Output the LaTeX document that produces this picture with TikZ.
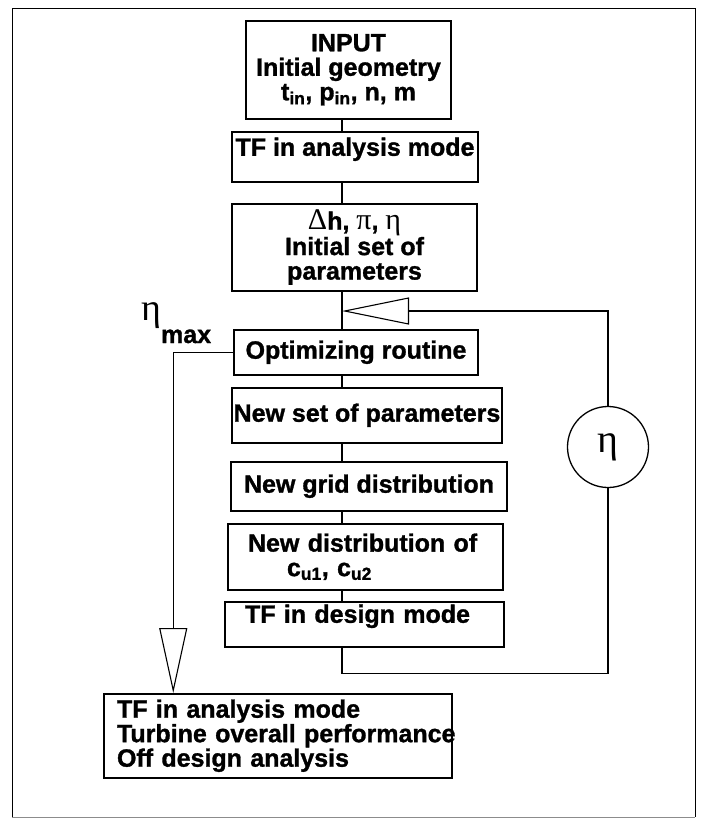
\documentclass[tikz,border=0pt]{standalone}
\usepackage{fontspec}
\setmainfont{Liberation Sans}[BoldFeatures={FakeBold=1.2}]
\newfontfamily\grk{Liberation Serif}
\usetikzlibrary{arrows.meta}
\definecolor{framegray}{gray}{0.55}
\newcommand\grtxt[1]{{\grk\mdseries\fontsize{30}{24.5}\selectfont #1}}
\tikzset{
  flowbox/.style={draw,line width=1.5pt,inner sep=0pt,anchor=north,
    font=\bfseries\fontsize{25}{24.5}\selectfont},
  link/.style={line width=1.1pt},
  bigtip/.style={-{Triangle[open,length=67pt,width=27pt]}},
  etacirc/.style={circle,draw,line width=1.3pt,minimum size=81pt,inner sep=0pt,
    font=\grk\fontsize{40}{40}\selectfont},
}

\begin{document}
\begin{tikzpicture}[x=1pt,y=-1pt]
  \useasboundingbox (0,0) rectangle (702,820);
  % frame
  \draw[line width=1pt] (12,817) -- (12,8) -- (695,8) -- (695,817);
  \draw[framegray,line width=1pt] (12,817) -- (695,817);
  \coordinate (spine) at (342,0);
  % main column
  \node[flowbox,minimum width=205pt,minimum height=98pt,align=center] (inp) at (348.5,20)
    {INPUT\\Initial geometry\\t\textsubscript{in}, p\textsubscript{in}, n, m};
  \node[flowbox,minimum width=246pt,text height=24pt,text depth=26pt] (tfan) at (355,131)
    {TF in analysis mode};
  \node[flowbox,minimum width=245pt,minimum height=87pt,align=center] (init) at (354.5,203)
    {\grtxt{Δ}h, \grtxt{π}, \grtxt{η}\\Initial set of\\parameters};
  \node[flowbox,minimum width=244pt,minimum height=45pt] (opt) at (356,329)
    {Optimizing routine};
  \node[flowbox,minimum width=270pt,minimum height=55pt] (npar) at (367,387)
    {New set of parameters};
  \node[flowbox,minimum width=276pt,minimum height=49pt] (grid) at (369,461)
    {New grid distribution};
  \node[flowbox,text width=235pt,inner xsep=20pt,minimum height=66pt,align=left] (dist) at (365.5,523)
    {New distribution of\\\hspace*{39pt}c\textsubscript{u1}, c\textsubscript{u2}};
  \node[flowbox,text width=239pt,inner xsep=20pt,text height=21pt,text depth=24pt,align=left] (design) at (364.5,601)
    {TF in design mode};
  \node[flowbox,text width=322pt,inner xsep=13pt,minimum height=84pt,align=left] (res) at (278,693)
    {TF in analysis mode\\\mbox{Turbine overall performance}\\Off design analysis};
  % connectors
  \draw[link] (inp.south -| spine) -- (tfan.north -| spine);
  \draw[link] (tfan.south -| spine) -- (init.north -| spine);
  \draw[link] (init.south -| spine) -- (opt.north -| spine);
  \draw[link] (opt.south -| spine) -- (npar.north -| spine);
  \draw[link] (npar.south -| spine) -- (grid.north -| spine);
  \draw[link] (grid.south -| spine) -- (dist.north -| spine);
  \draw[link] (dist.south -| spine) -- (design.north -| spine);
  % feedback loop
  \node[etacirc] (eta) at (608,447) {η};
  \coordinate (loopin) at (342,311);
  \draw[link] (design.south -| spine) -- ++(0,26) -| (eta.south);
  \draw[link,bigtip] (eta.north) |- (loopin);
  % exit at eta max
  \node[anchor=base west,inner sep=0pt,font=\bfseries\fontsize{25}{24.5}\selectfont] (etamax) at (141,320)
    {{\grk\mdseries\fontsize{38}{38}\selectfont η}\raisebox{-23pt}{max}};
  \draw[link,-{Triangle[open,length=65pt,width=28pt]}] (opt.west) -| ([xshift=70pt]res.north west);
\end{tikzpicture}
\end{document}
